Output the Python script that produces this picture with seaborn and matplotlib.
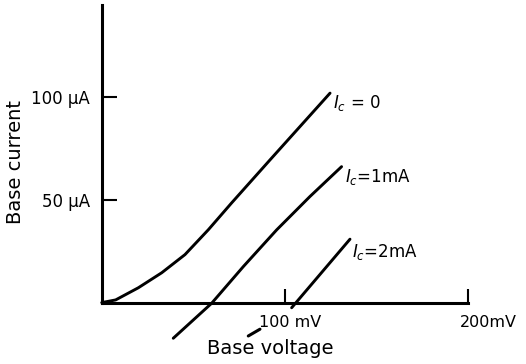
import numpy as np
import pandas as pd
import seaborn as sns
import matplotlib.pyplot as plt

# base voltage (mV) vs base current (uA)
ic0_v = [0, 7.6, 20, 32.8, 45.5, 58.3, 71, 92, 124.8]
ic0_i = [0, 1.3, 7.2, 14.5, 23.3, 35.4, 48.4, 69.3, 101.7]

ic1_v = [39.1, 60.1, 77.4, 95.6, 113.8, 131.1]
ic1_i = [-17.3, -0.3, 17.5, 35.3, 51.5, 66.0]

ic2_v = [103.8, 135.7]
ic2_i = [-2.5, 30.8]

curve_labels = [r'$I_c$ = 0', r'$I_c$=1mA', r'$I_c$=2mA']
label_pos = [(126.4, 94.5), (133.0, 58.7), (136.6, 22.3)]

yticks = [50, 100]
ytick_labels = ['50 µA', '100 µA']
xticks = [100, 200]
xtick_labels = ['100 mV', '200mV']

sns.set_style('white')
plt.rcParams['font.family'] = ['DejaVu Sans']
plt.rcParams['mathtext.fontset'] = 'dejavusans'
plt.rcParams['text.color'] = 'black'
plt.rcParams['xtick.color'] = 'black'
plt.rcParams['ytick.color'] = 'black'
plt.rcParams['axes.labelcolor'] = 'black'

fig = plt.figure(figsize=(5.26, 3.64), dpi=100)
ax = fig.add_axes([0, 0, 1, 1])

df = pd.concat([
    pd.DataFrame({'v': ic0_v, 'i': ic0_i, 'curve': 'ic0'}),
    pd.DataFrame({'v': ic1_v, 'i': ic1_i, 'curve': 'ic1'}),
    pd.DataFrame({'v': ic2_v, 'i': ic2_i, 'curve': 'ic2'}),
])
for name, grp in df.groupby('curve'):
    sns.lineplot(data=grp, x='v', y='i', ax=ax, color='black', lw=2.1,
                 sort=False, estimator=None)

for txt, (lx, ly) in zip(curve_labels, label_pos):
    ax.text(lx, ly, txt, fontsize=12, ha='left', va='baseline')

# axes through the origin
ax.set_xlim(-55.6, 231.9)
ax.set_ylim(-29.8, 146.9)
for s in ['top', 'right']:
    ax.spines[s].set_visible(False)
ax.spines['left'].set_position(('data', 0))
ax.spines['bottom'].set_position(('data', 0))
ax.spines['left'].set_bounds(0, 144.5)
ax.spines['bottom'].set_bounds(0, 200)
for s in ['left', 'bottom']:
    ax.spines[s].set_linewidth(2.2)
    ax.spines[s].set_color('black')

ax.set_yticks(yticks)
ax.set_yticklabels(ytick_labels)
ax.tick_params(axis='y', direction='in', length=11, width=1.5, pad=8.5,
               labelsize=12, left=True)
ax.set_xticks(xticks)
ax.set_xticklabels([])
ax.tick_params(axis='x', direction='in', length=10, width=1.5, bottom=True)

ax.text(102.9, -11.8, xtick_labels[0], fontsize=11.5, ha='center',
        va='baseline')
ax.text(195.8, -11.8, xtick_labels[1], fontsize=11.5, ha='left',
        va='baseline')

ax.set_xlabel('')
ax.set_ylabel('')
ax.text(92, -25, 'Base voltage', fontsize=14, ha='center', va='baseline')
ax.text(-47.4, 68.3, 'Base current', fontsize=14, rotation=90,
        ha='center', va='center')
# little leader stroke under the 100 mV label
ax.plot([80.1, 86.5], [-16.2, -12.9], color='black', lw=2.2)

fig.savefig('out.png', dpi=100)
